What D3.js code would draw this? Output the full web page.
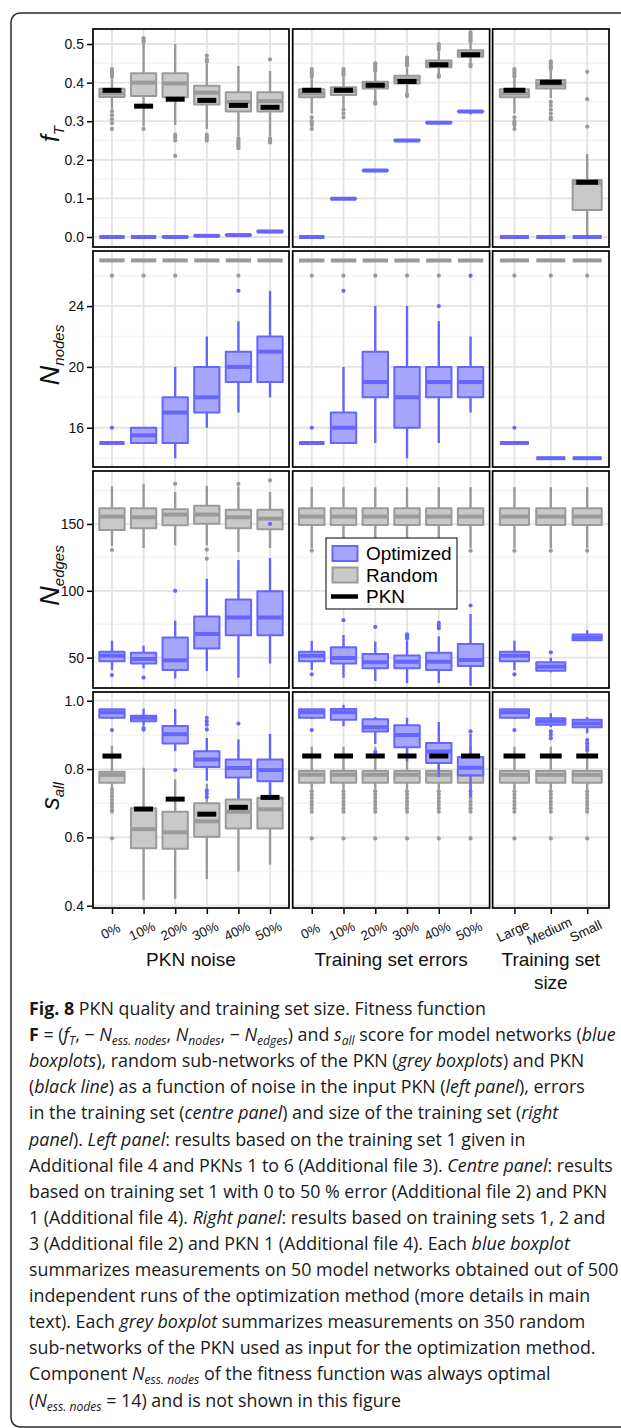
<!DOCTYPE html>
<html lang="en">
<head>
<meta charset="UTF-8">
<title>PKN quality and training set size</title>
<script src="https://cdn.jsdelivr.net/npm/d3@7"></script>
<style>
  body { margin: 0; background: #fff; }
  svg { display: block; font-family: "Liberation Sans", Arial, sans-serif; }
</style>
</head>
<body>
<svg id="chart" width="621" height="1428"></svg>
<script>
// ---- categories ----
var noiseCats = ["0%", "10%", "20%", "30%", "40%", "50%"];
var errorCats = ["0%", "10%", "20%", "30%", "40%", "50%"];
var sizeCats = ["Large", "Medium", "Small"];
var facetTitles = [["PKN noise"], ["Training set errors"], ["Training set", "size"]];

// ---- box stats: [low whisker, q1, median, q3, high whisker], 6 noise + 6 errors + 3 size ----
var fT_rand = [
  [0.33, 0.363, 0.372, 0.384, 0.41], [0.287, 0.365, 0.40, 0.424, 0.50], [0.29, 0.362, 0.398, 0.424, 0.50],
  [0.28, 0.343, 0.374, 0.392, 0.45], [0.26, 0.325, 0.35, 0.375, 0.443], [0.26, 0.325, 0.352, 0.375, 0.43],
  [0.32, 0.362, 0.372, 0.383, 0.41], [0.335, 0.368, 0.378, 0.388, 0.415], [0.355, 0.385, 0.393, 0.402, 0.425],
  [0.375, 0.398, 0.408, 0.418, 0.44], [0.425, 0.44, 0.448, 0.457, 0.48], [0.452, 0.467, 0.475, 0.484, 0.50],
  [0.32, 0.362, 0.372, 0.383, 0.41], [0.36, 0.385, 0.395, 0.407, 0.43], [0.0, 0.07, 0.14, 0.148, 0.215]
];
var fT_randOut = [
  [0.415, 0.42, 0.425, 0.43, 0.435, 0.325, 0.315, 0.305, 0.295, 0.28], [0.505, 0.51, 0.515, 0.28], [0.265, 0.258, 0.25, 0.21],
  [0.455, 0.46, 0.47, 0.265, 0.26, 0.255, 0.25], [0.255, 0.25, 0.245, 0.24, 0.235, 0.23], [0.46, 0.255, 0.25, 0.245],
  [0.415, 0.42, 0.425, 0.43, 0.435, 0.31, 0.30, 0.295, 0.29, 0.28], [0.42, 0.425, 0.43, 0.435, 0.33, 0.32, 0.31], [0.43, 0.435, 0.44, 0.445, 0.45, 0.35, 0.345],
  [0.445, 0.45, 0.455, 0.46, 0.465, 0.37, 0.365], [0.485, 0.49, 0.495, 0.50, 0.42, 0.415], [0.505, 0.51, 0.515, 0.52, 0.525, 0.53, 0.447, 0.442],
  [0.415, 0.42, 0.425, 0.43, 0.435, 0.31, 0.30, 0.295, 0.29, 0.28], [0.435, 0.44, 0.445, 0.45, 0.455, 0.35, 0.34, 0.33, 0.32, 0.31, 0.305], [0.286, 0.357, 0.428]
];
var fT_opt = [
  [0, 0, 0, 0, 0], [0, 0, 0, 0, 0], [0, 0, 0, 0.001, 0.001],
  [0.002, 0.003, 0.003, 0.004, 0.004], [0.004, 0.005, 0.005, 0.006, 0.007], [0.012, 0.013, 0.014, 0.016, 0.016],
  [0, 0, 0, 0, 0], [0.097, 0.099, 0.099, 0.1, 0.1], [0.168, 0.172, 0.172, 0.173, 0.173],
  [0.245, 0.25, 0.25, 0.251, 0.251], [0.291, 0.296, 0.296, 0.297, 0.297], [0.318, 0.325, 0.325, 0.326, 0.326],
  [0, 0, 0, 0, 0], [0, 0, 0, 0, 0], [0, 0, 0, 0, 0]
];
var fT_optOut = [[], [], [], [], [], [], [], [], [], [], [], [], [], [], []];
var fT_pkn = [0.38, 0.339, 0.357, 0.354, 0.341, 0.336, 0.38, 0.38, 0.393, 0.403, 0.446, 0.472, 0.38, 0.401, 0.142];

var nodes_rand = [
  [27, 27, 27, 27, 27], [27, 27, 27, 27, 27], [27, 27, 27, 27, 27], [27, 27, 27, 27, 27], [27, 27, 27, 27, 27], [27, 27, 27, 27, 27],
  [27, 27, 27, 27, 27], [27, 27, 27, 27, 27], [27, 27, 27, 27, 27], [27, 27, 27, 27, 27], [27, 27, 27, 27, 27], [27, 27, 27, 27, 27],
  [27, 27, 27, 27, 27], [27, 27, 27, 27, 27], [27, 27, 27, 27, 27]
];
var nodes_randOut = [[26], [26], [26], [], [26], [], [26], [26], [26], [26], [26], [], [26], [26], [26]];
var nodes_opt = [
  [15, 15, 15, 15, 15], [15, 15, 15.5, 16, 16], [14, 15, 17, 18, 20],
  [16, 17, 18, 20, 22], [17, 19, 20, 21, 23], [18, 19, 21, 22, 25],
  [15, 15, 15, 15, 15], [15, 15, 16, 17, 20], [15, 18, 19, 21, 24],
  [14, 16, 18, 20, 24], [15, 18, 19, 20, 23], [17, 18, 19, 20, 22],
  [15, 15, 15, 15, 15], [14, 14, 14, 14, 14], [14, 14, 14, 14, 14]
];
var nodes_optOut = [[16], [], [], [], [25], [], [16], [25], [], [], [24], [26], [16], [], []];
var nodes_pkn = [];

var edges_rand = [
  [133.5, 145.5, 155.5, 161.7, 178], [132, 146.7, 155, 161.7, 180], [134, 149, 157, 161, 174],
  [134, 150.2, 157, 163.6, 178.5], [129, 146.7, 155, 160.6, 178], [132, 146, 154, 160.6, 174],
  [132, 149.3, 155.5, 161.7, 177.5], [132, 149.3, 155.5, 161.7, 177.5], [132, 149.3, 155.5, 161.7, 177.5],
  [132, 149.3, 155.5, 161.7, 177.5], [132, 149.3, 155.5, 161.7, 177.5], [132, 149.3, 155.5, 161.7, 177.5],
  [132, 149.3, 155.5, 161.7, 177.5], [132, 149.3, 155.5, 161.7, 177.5], [132, 149.3, 155.5, 161.7, 177.5]
];
var edges_randOut = [[130.5], [], [180], [130.8, 124], [180], [182.6], [130], [130], [130], [130], [130], [130], [130], [130], [130]];
var edges_opt = [
  [40.7, 47.4, 51.5, 54.4, 62.7], [42, 45.7, 49, 53.7, 59], [34.5, 40.7, 48, 65, 77.7],
  [40, 56.9, 67.7, 80.8, 109], [35, 66.8, 80, 93.4, 123], [45.6, 66.8, 80, 99.7, 124.5],
  [40.7, 47.4, 51.5, 54.4, 62.7], [35, 45.7, 49.7, 57.7, 67], [32.5, 42, 46.5, 52.7, 62],
  [31, 42, 47, 51.7, 63], [31, 40.7, 47, 53.7, 66], [29, 43.7, 48.2, 60.2, 82.7],
  [40.7, 47.4, 51.5, 54.4, 62.7], [39, 40.2, 43.3, 46.5, 50], [63, 63, 65, 67.3, 70.5]
];
var edges_optOut = [[37], [35], [100], [], [], [150], [37.5], [78], [73], [64.5, 66, 67.5], [72, 74, 76], [89], [37.5], [54], []];
var edges_pkn = [];

var sall_rand = [
  [0.744, 0.76, 0.783, 0.792, 0.868], [0.417, 0.568, 0.624, 0.685, 0.804], [0.42, 0.567, 0.615, 0.675, 0.77],
  [0.478, 0.602, 0.647, 0.70, 0.757], [0.50, 0.626, 0.675, 0.711, 0.76], [0.52, 0.626, 0.682, 0.716, 0.76],
  [0.74, 0.76, 0.783, 0.794, 0.865], [0.74, 0.76, 0.783, 0.794, 0.865], [0.74, 0.76, 0.783, 0.794, 0.865],
  [0.74, 0.76, 0.783, 0.794, 0.865], [0.74, 0.76, 0.783, 0.794, 0.865], [0.74, 0.76, 0.783, 0.794, 0.865],
  [0.74, 0.76, 0.783, 0.794, 0.865], [0.74, 0.76, 0.783, 0.794, 0.865], [0.74, 0.76, 0.783, 0.794, 0.865]
];
var grayTail = [0.735, 0.725, 0.715, 0.705, 0.695, 0.685, 0.675, 0.597];
var sall_randOut = [
  [0.74, 0.73, 0.72, 0.71, 0.70, 0.69, 0.68, 0.675, 0.597], [], [], [], [], [],
  grayTail, grayTail, grayTail, grayTail, grayTail, grayTail, grayTail, grayTail, grayTail
];
var sall_opt = [
  [0.947, 0.95, 0.966, 0.975, 0.975], [0.927, 0.94, 0.95, 0.956, 0.977], [0.853, 0.875, 0.902, 0.926, 0.976],
  [0.766, 0.806, 0.828, 0.852, 0.891], [0.713, 0.775, 0.803, 0.828, 0.887], [0.713, 0.764, 0.797, 0.828, 0.903],
  [0.947, 0.95, 0.966, 0.975, 0.975], [0.925, 0.944, 0.966, 0.976, 0.988], [0.873, 0.91, 0.922, 0.946, 0.952],
  [0.823, 0.864, 0.90, 0.928, 0.95], [0.777, 0.818, 0.851, 0.876, 0.938], [0.718, 0.782, 0.804, 0.835, 0.903],
  [0.947, 0.95, 0.966, 0.975, 0.975], [0.922, 0.93, 0.94, 0.949, 0.963], [0.905, 0.922, 0.933, 0.944, 0.952]
];
var sall_optOut = [
  [0.914], [0.915, 0.92], [0.797], [0.95, 0.94, 0.93, 0.916, 0.737, 0.728, 0.718], [0.933], [],
  [0.914], [], [0.85], [], [], [0.91],
  [0.914], [0.91, 0.90, 0.89], [0.885, 0.875, 0.865, 0.856]
];
var sall_pkn = [0.838, 0.683, 0.712, 0.668, 0.688, 0.717, 0.838, 0.838, 0.838, 0.838, 0.838, 0.838, 0.838, 0.838, 0.838];

// ---- tick values ----
var fT_ticks = [0, 0.1, 0.2, 0.3, 0.4, 0.5];
var nodes_ticks = [16, 20, 24];
var edges_ticks = [50, 100, 150];
var sall_ticks = [0.4, 0.6, 0.8, 1.0];

var legendLabels = ["Optimized", "Random", "PKN"];

// ---- layout ----
var facets = [
  { cats: noiseCats, x0: 93, x1: 289, off: 0 },
  { cats: errorCats, x0: 292.7, x1: 489.6, off: 6 },
  { cats: sizeCats, x0: 492.6, x1: 609, off: 12 }
];
var rows = [
  { y0: 29, y1: 247, domain: [-0.0259, 0.5389], ticks: fT_ticks, fmt: d3.format(".1f"),
    rand: fT_rand, randOut: fT_randOut, opt: fT_opt, optOut: fT_optOut, pkn: fT_pkn, label: ["f", "T"] },
  { y0: 251, y1: 467, domain: [13.42, 27.62], ticks: nodes_ticks, fmt: d3.format("d"),
    rand: nodes_rand, randOut: nodes_randOut, opt: nodes_opt, optOut: nodes_optOut, pkn: nodes_pkn, label: ["N", "nodes"] },
  { y0: 471, y1: 688, domain: [27.3, 189.6], ticks: edges_ticks, fmt: d3.format("d"),
    rand: edges_rand, randOut: edges_randOut, opt: edges_opt, optOut: edges_optOut, pkn: edges_pkn, label: ["N", "edges"] },
  { y0: 692, y1: 908, domain: [0.3933, 1.0255], ticks: sall_ticks, fmt: d3.format(".1f"),
    rand: sall_rand, randOut: sall_randOut, opt: sall_opt, optOut: sall_optOut, pkn: sall_pkn, label: ["s", "all"] }
];

var grey = { stroke: "#9a9a9a", fill: "#c9c9c9" };
var blue = { stroke: "#6666ff", fill: "#a6a6ff" };

var svg = d3.select("#chart");
var defs = svg.append("defs");

// outer frame
svg.append("rect").attr("x", 11).attr("y", 13).attr("width", 700).attr("height", 1414).attr("rx", 9)
  .attr("fill", "#fff").attr("stroke", "#2b2b2b").attr("stroke-width", 1.5);

function minorTicks(ticks) {
  var step = ticks[1] - ticks[0], out = [];
  for (var v = ticks[0] - step / 2; v < ticks[ticks.length - 1] + step; v += step) out.push(v);
  return out;
}

function drawBoxes(g, x, y, cats, stats, outs, st, bw) {
  cats.forEach(function (c, i) {
    var s = stats[i], cx = x(c);
    if (!s) return;
    g.append("line").attr("x1", cx).attr("x2", cx).attr("y1", y(s[0])).attr("y2", y(s[4]))
      .attr("stroke", st.stroke).attr("stroke-width", 2.4);
    g.append("rect").attr("x", cx - bw / 2).attr("y", y(s[3])).attr("width", bw)
      .attr("height", Math.max(0, y(s[1]) - y(s[3])))
      .attr("fill", st.fill).attr("stroke", st.stroke).attr("stroke-width", 2).attr("stroke-linejoin", "round");
    g.append("line").attr("x1", cx - bw / 2).attr("x2", cx + bw / 2).attr("y1", y(s[2])).attr("y2", y(s[2]))
      .attr("stroke", st.stroke).attr("stroke-width", 4);
    g.selectAll(null).data(outs[i] || []).enter().append("circle")
      .attr("cx", cx).attr("cy", function (d) { return y(d); }).attr("r", 2.1).attr("fill", st.stroke);
  });
}

rows.forEach(function (row, r) {
  var y = d3.scaleLinear().domain(row.domain).range([row.y1, row.y0]);
  var minor = minorTicks(row.ticks);

  facets.forEach(function (fc, f) {
    var x = d3.scalePoint().domain(fc.cats).range([fc.x0, fc.x1]).padding(0.6);
    var step = x.step();
    var clipId = "clip" + r + "_" + f;
    defs.append("clipPath").attr("id", clipId).append("rect")
      .attr("x", fc.x0).attr("y", row.y0).attr("width", fc.x1 - fc.x0).attr("height", row.y1 - row.y0);
    var g = svg.append("g").attr("clip-path", "url(#" + clipId + ")");

    g.append("rect").attr("x", fc.x0).attr("y", row.y0).attr("width", fc.x1 - fc.x0).attr("height", row.y1 - row.y0).attr("fill", "#fff");
    g.selectAll(null).data(minor).enter().append("line")
      .attr("x1", fc.x0).attr("x2", fc.x1).attr("y1", function (d) { return y(d); }).attr("y2", function (d) { return y(d); })
      .attr("stroke", "#f4f4f4").attr("stroke-width", 1.5);
    g.selectAll(null).data(row.ticks).enter().append("line")
      .attr("x1", fc.x0).attr("x2", fc.x1).attr("y1", function (d) { return y(d); }).attr("y2", function (d) { return y(d); })
      .attr("stroke", "#e3e3e3").attr("stroke-width", 1.8);
    g.selectAll(null).data(fc.cats).enter().append("line")
      .attr("x1", function (d) { return x(d); }).attr("x2", function (d) { return x(d); })
      .attr("y1", row.y0).attr("y2", row.y1)
      .attr("stroke", "#e3e3e3").attr("stroke-width", 1.8);

    var n = fc.cats.length;
    drawBoxes(g, x, y, fc.cats, row.rand.slice(fc.off, fc.off + n), row.randOut.slice(fc.off, fc.off + n), grey, step * 0.8);
    drawBoxes(g, x, y, fc.cats, row.opt.slice(fc.off, fc.off + n), row.optOut.slice(fc.off, fc.off + n), blue, step * 0.8);

    var pkn = row.pkn.slice(fc.off, fc.off + n);
    g.selectAll(null).data(pkn).enter().append("line")
      .attr("x1", function (d, i) { return x(fc.cats[i]) - step * 0.3; })
      .attr("x2", function (d, i) { return x(fc.cats[i]) + step * 0.3; })
      .attr("y1", function (d) { return y(d); }).attr("y2", function (d) { return y(d); })
      .attr("stroke", "#000").attr("stroke-width", 5);

    svg.append("rect").attr("x", fc.x0).attr("y", row.y0).attr("width", fc.x1 - fc.x0).attr("height", row.y1 - row.y0)
      .attr("fill", "none").attr("stroke", "#000").attr("stroke-width", 1.7);

    // y axis on the left facet
    if (f === 0) {
      var ax = svg.append("g").attr("transform", "translate(" + (fc.x0 - 1) + ",0)")
        .call(d3.axisLeft(y).tickValues(row.ticks).tickSize(5).tickPadding(3).tickFormat(row.fmt));
      ax.select(".domain").remove();
      ax.selectAll("line").attr("stroke", "#000").attr("stroke-width", 1.5);
      ax.selectAll("text").attr("font-size", 14).attr("fill", "#111").attr("font-family", "Liberation Sans, Arial, sans-serif");
    }

    // x axis on the bottom row
    if (r === rows.length - 1) {
      var bx = svg.append("g").attr("transform", "translate(0," + (row.y1 + 1) + ")")
        .call(d3.axisBottom(x).tickSize(5).tickPadding(3));
      bx.select(".domain").remove();
      bx.selectAll("line").attr("stroke", "#000").attr("stroke-width", 1.5);
      bx.selectAll("text").attr("font-size", 13.5).attr("fill", "#111")
        .attr("font-family", "Liberation Sans, Arial, sans-serif")
        .attr("text-anchor", "middle").attr("y", 0).attr("dy", "0.35em")
        .attr("transform", "translate(-2,22) rotate(-25)");

      var tt = svg.append("text").attr("text-anchor", "middle").attr("font-size", 19).attr("fill", "#111");
      facetTitles[f].forEach(function (line, k) {
        tt.append("tspan").attr("x", (fc.x0 + fc.x1) / 2).attr("y", 966 + k * 23).text(line);
      });
    }
  });

  // y axis title
  var lab = svg.append("text").attr("text-anchor", "middle").attr("font-style", "italic").attr("fill", "#111")
    .attr("transform", "translate(59," + ((row.y0 + row.y1) / 2 - 4) + ") rotate(-90)");
  lab.append("tspan").attr("font-size", row.label[0] === "N" ? 27 : 25).text(row.label[0]);
  lab.append("tspan").attr("font-size", 15).attr("dy", 5).text(row.label[1]);
});

// legend in centre panel of the edges row
var lg = svg.append("g").attr("transform", "translate(326,538)");
lg.append("rect").attr("width", 131).attr("height", 71).attr("fill", "#fff").attr("stroke", "#000").attr("stroke-width", 1);
var keyStyles = [blue, grey, null];
legendLabels.forEach(function (t, i) {
  var ky = 8 + i * 21.5;
  if (keyStyles[i]) {
    lg.append("rect").attr("x", 6.5).attr("y", ky).attr("width", 25).attr("height", 15)
      .attr("fill", keyStyles[i].fill).attr("stroke", keyStyles[i].stroke).attr("stroke-width", 2);
  } else {
    lg.append("line").attr("x1", 5).attr("x2", 32).attr("y1", ky + 7.5).attr("y2", ky + 7.5)
      .attr("stroke", "#000").attr("stroke-width", 4.5);
  }
  lg.append("text").attr("x", 40).attr("y", ky + 14).attr("font-size", 19).attr("fill", "#000").text(t);
});

// ---- caption ----
var captionLines = [
  [["Fig. 8", "b"], [" PKN quality and training set size. Fitness function"]],
  [["F", "b"], [" = ("], ["f", "i"], ["T", "sub"], [", \u2212 "], ["N", "i"], ["ess. nodes", "sub"], [", "], ["N", "i"], ["nodes", "sub"], [", \u2212 "], ["N", "i"], ["edges", "sub"], [") and "], ["s", "i"], ["all", "sub"], [" score for model networks ("], ["blue", "i"]],
  [["boxplots", "i"], ["), random sub-networks of the PKN ("], ["grey boxplots", "i"], [") and PKN"]],
  [["("], ["black line", "i"], [") as a function of noise in the input PKN ("], ["left panel", "i"], ["), errors"]],
  [["in the training set ("], ["centre panel", "i"], [") and size of the training set ("], ["right", "i"]],
  [["panel", "i"], ["). "], ["Left panel", "i"], [": results based on the training set 1 given in"]],
  [["Additional file 4 and PKNs 1 to 6 (Additional file 3). "], ["Centre panel", "i"], [": results"]],
  [["based on training set 1 with 0 to 50 % error (Additional file 2) and PKN"]],
  [["1 (Additional file 4). "], ["Right panel", "i"], [": results based on training sets 1, 2 and"]],
  [["3 (Additional file 2) and PKN 1 (Additional file 4). Each "], ["blue boxplot", "i"]],
  [["summarizes measurements on 50 model networks obtained out of 500"]],
  [["independent runs of the optimization method (more details in main"]],
  [["text). Each "], ["grey boxplot", "i"], [" summarizes measurements on 350 random"]],
  [["sub-networks of the PKN used as input for the optimization method."]],
  [["Component "], ["N", "i"], ["ess. nodes", "sub"], [" of the fitness function was always optimal"]],
  [["("], ["N", "i"], ["ess. nodes", "sub"], [" = 14) and is not shown in this figure"]]
];

var capFont = "'Open Sans', 'Noto Sans', sans-serif";
var probe = svg.append("text").attr("font-family", capFont).attr("font-size", 17).text(captionLines[10][0][0]);
var capSize = 17 * 590 / probe.node().getComputedTextLength();
probe.remove();

var cap = svg.append("g").attr("font-family", capFont).attr("fill", "#1a1a1a");
captionLines.forEach(function (segs, li) {
  var t = cap.append("text").attr("x", 29).attr("y", 1015 + li * 26.1).attr("font-size", capSize);
  var shifted = false;
  segs.forEach(function (s) {
    var sp = t.append("tspan").text(s[0]);
    if (s[1] === "b") sp.attr("font-weight", "bold");
    if (s[1] === "i") sp.attr("font-style", "italic");
    if (s[1] === "sub") {
      sp.attr("font-style", "italic").attr("font-size", capSize * 0.68);
      if (!shifted) { sp.attr("dy", 4); shifted = true; }
    } else if (shifted) {
      sp.attr("dy", -4); shifted = false;
    }
  });
});
</script>
</body>
</html>
